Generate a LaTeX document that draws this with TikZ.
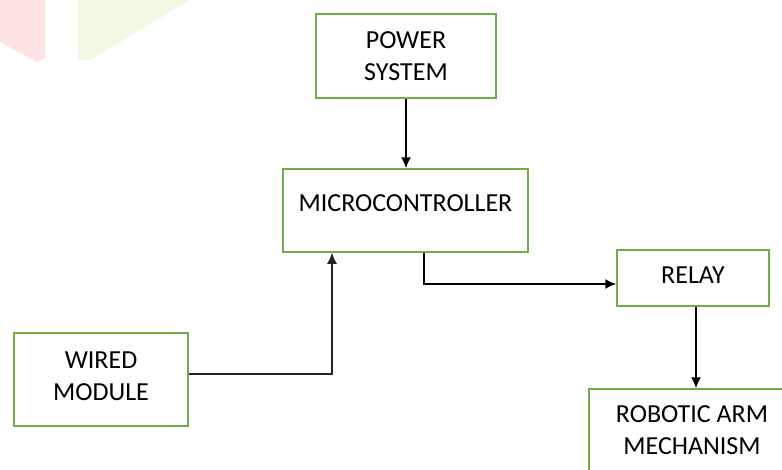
\documentclass[tikz,border=0pt]{standalone}
\usepackage{fontspec}
\setmainfont{Carlito}
\usetikzlibrary{positioning, arrows.meta}

\definecolor{boxgreen}{HTML}{70AD47}
\definecolor{markpink}{HTML}{FFE3E3}
\definecolor{markgreen}{HTML}{EFF9E3}

\tikzset{
  blok/.style={draw=boxgreen, line width=1.5pt, rectangle, inner sep=0pt},
  txt/.style={align=center, inner sep=0pt, font=\fontsize{26}{32.5}\selectfont},
  conn/.style={draw=black, line width=1.5pt, -{Latex[length=11pt,width=10pt]}},
}

\begin{document}
\begin{tikzpicture}[x=1pt,y=-1pt]
\useasboundingbox (0,0) rectangle (782,469);
\clip (0,0) rectangle (782,469);

% les taches du fond
\fill[markpink] (0,0) -- (45,0) -- (45,58) -- (37,62) -- (0,42) -- cycle;
\fill[markgreen] (78,0) -- (190,0) -- (90,60) -- (78,60) -- cycle;

% les blocs
\node[blok, minimum width=180pt, minimum height=84pt] (power) at (406,56) {};
\node[txt, below=18pt of power.north] (powerTxt) {POWER\\SYSTEM};

\node[blok, minimum width=245pt, minimum height=83pt] (micro) at (405.5,210.5) {};
\node[txt, below=26pt of micro.north] (microTxt) {MICROCONTROLLER};

\node[blok, minimum width=174pt, minimum height=93pt] (wired) at (101,379.5) {};
\node[txt, below=19pt of wired.north] (wiredTxt) {WIRED\\MODULE};

\node[blok, minimum width=152pt, minimum height=56pt] (relay) at (693,278) {};
\node[txt, below=17pt of relay.north] (relayTxt) {RELAY};

\node[blok, minimum width=206pt, minimum height=90pt] (robot) at (692,434) {};
\node[txt, below=17pt of robot.north] (robotTxt) {ROBOTIC ARM\\MECHANISM};

% les fleches
\draw[conn] (power.south) -- (power.south |- micro.north);
\draw[conn, line width=1.1pt, draw=black!85] ([yshift=5.5pt]wired.east) -| ([xshift=-73.5pt]micro.south);
\draw[conn] ([xshift=18.5pt]micro.south) |- ([yshift=-6pt]relay.west);
\draw[conn] ([xshift=3pt]relay.south) -- ([xshift=3pt]relay.south |- robot.north);
\end{tikzpicture}
\end{document}
